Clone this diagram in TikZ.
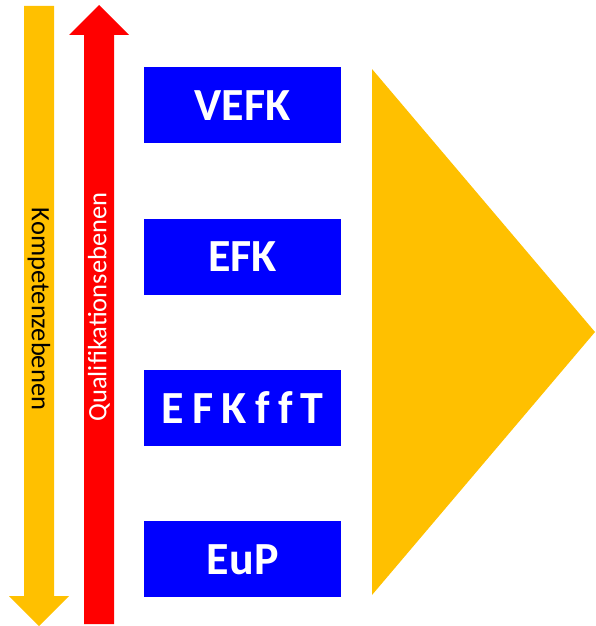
\documentclass[tikz,border=0pt]{standalone}
\usepackage{fontspec}
\setmainfont{Carlito}
\usetikzlibrary{positioning}
\definecolor{gold}{HTML}{FFC000}
\definecolor{reinblau}{HTML}{0000FF}

\begin{document}
\begin{tikzpicture}[
	x = 1pt, y = -1pt,
	stufe/.style = {fill = reinblau, minimum width = 197pt, minimum height = 76pt, inner sep = 0pt, text = white, font = \bfseries\fontsize{46}{46}\selectfont},
	ebene/.style = {inner sep = 0pt, font = \fontsize{26.5}{26.5}\selectfont}
	]
	\useasboundingbox (0,0) rectangle (595,626);
	% Pfeile links
	\fill[gold] (24,6) -- (54,6) -- (54,596) -- (69,596) -- (39,626) -- (9,596) -- (24,596) -- cycle;
	\fill[red] (84,624) -- (114,624) -- (114,35) -- (129,35) -- (99,5) -- (69,35) -- (84,35) -- cycle;
	\node[ebene, rotate = -90] (komp) at (39,309) {Kompetenzebenen};
	\node[ebene, rotate = 90, text = white] (quali) at (99,307) {Qualifikationsebenen};
	% Stufen
	\node[stufe, anchor = north west] (vefk) at (144,67) {VEFK};
	\node[stufe, below = 75pt of vefk] (efk) {EFK};
	\node[stufe, below = 75pt of efk] (efkfft) {\spaceskip=0.18em E F K f f T};
	\node[stufe, below = 75pt of efkfft] (eup) {EuP};
	% Dreieck
	\fill[gold] (372,69) -- (595,332) -- (372,595) -- cycle;
\end{tikzpicture}
\end{document}
